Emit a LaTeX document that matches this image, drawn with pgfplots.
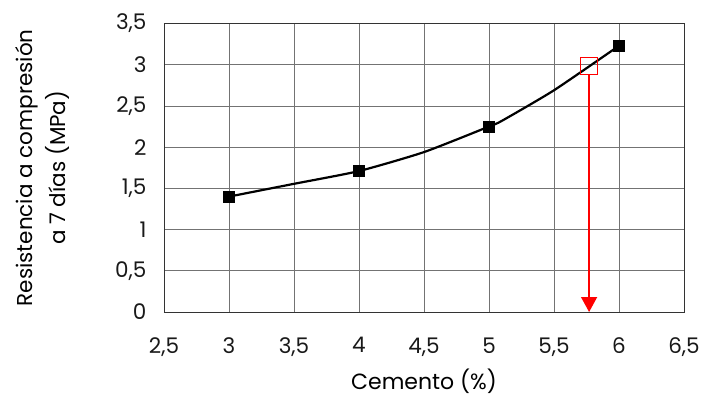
\documentclass[border=0pt]{standalone}
\usepackage{pgfplots}
\pgfplotsset{compat=1.18}
\usepackage{fontspec}
\setmainfont{Poppins}
\usetikzlibrary{arrows.meta}
\begin{document}
\begin{tikzpicture}
\begin{axis}[
  name=ax,
  scale only axis,
  width=520pt, height=288.5pt,
  xmin=2.5, xmax=6.5, ymin=0, ymax=3.5,
  xtick={2.5,3,...,6.5},
  ytick={0,0.5,...,3.5},
  grid=major,
  grid style={black!55, line width=0.7pt},
  axis line style={black!80, line width=0.9pt},
  tick style={draw=none},
  /pgf/number format/use comma,
  /pgf/number format/assume math mode=true,
  tick label style={font=\fontsize{21.5}{23}\selectfont, text=black!90},
  xticklabel style={yshift=-22pt},
  yticklabel style={xshift=-14pt},
  xlabel={Cemento (\%)},
  xlabel style={font=\fontsize{22}{24}\selectfont, yshift=-6pt},
  ylabel={Resistencia a compresión\\a 7 días (MPa)},
  ylabel style={font=\fontsize{21.5}{33}\selectfont, align=center, yshift=39pt},
  clip=false,
]
\addplot[black, line width=2.2pt, smooth, tension=0.35] coordinates {
  (3,1.40) (3.5,1.555) (4,1.71) (4.5,1.94) (5,2.25) (5.1,2.32) (5.5,2.69) (6,3.23)
};
\addplot[only marks, mark=square*, mark size=5.5pt, black] coordinates {
  (3,1.40) (4,1.71) (5,2.25) (6,3.23)
};
\addplot[draw=red, line width=1.4pt, -{Triangle[width=16pt,length=15pt,fill=red]}, shorten <=8.5pt] coordinates {
  (5.77,2.98) (5.77,0)
};
\addplot[only marks, mark=square, mark size=8.5pt, mark options={draw=red, line width=1pt}] coordinates {
  (5.77,2.98)
};
\end{axis}
\pgfresetboundingbox
\path[use as bounding box] ([shift={(-164pt,-86pt)}]ax.south west) rectangle ([shift={(18pt,23.5pt)}]ax.north east);
\end{tikzpicture}
\end{document}
